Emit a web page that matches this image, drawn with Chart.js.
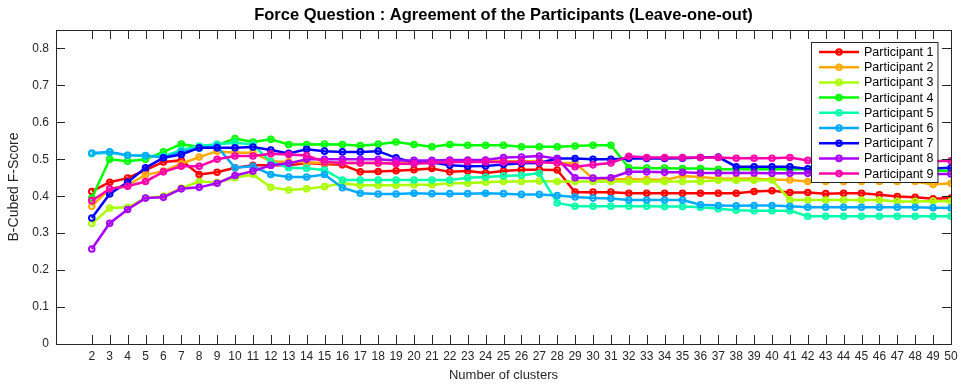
<!DOCTYPE html>
<html>
<head>
<meta charset="utf-8">
<title>Force Question</title>
<script src="https://cdn.jsdelivr.net/npm/chart.js@4.4.1/dist/chart.umd.min.js"></script>
<style>
  html, body { margin: 0; padding: 0; background: #fff; }
  #wrap { width: 963px; height: 389px; }
</style>
</head>
<body>
<div id="wrap"><canvas id="chart" width="963" height="389"></canvas></div>
<script>
// number of clusters (x axis)
const CLUSTERS = [2, 3, 4, 5, 6, 7, 8, 9, 10, 11, 12, 13, 14, 15, 16, 17, 18, 19, 20, 21, 22, 23, 24, 25, 26,
  27, 28, 29, 30, 31, 32, 33, 34, 35, 36, 37, 38, 39, 40, 41, 42, 43, 44, 45, 46, 47, 48, 49, 50];
const Y_TICKS = [0, 0.1, 0.2, 0.3, 0.4, 0.5, 0.6, 0.7, 0.8];

// B-Cubed F-score per participant, one value per cluster count
const P1 = [0.413, 0.438, 0.449, 0.471, 0.493, 0.497, 0.459, 0.465, 0.477, 0.484,
  0.484, 0.484, 0.490, 0.487, 0.485, 0.466, 0.467, 0.469, 0.472, 0.475,
  0.466, 0.468, 0.463, 0.468, 0.472, 0.472, 0.471, 0.411, 0.411, 0.411,
  0.408, 0.408, 0.408, 0.408, 0.408, 0.408, 0.408, 0.413, 0.415, 0.410,
  0.410, 0.407, 0.408, 0.408, 0.404, 0.399, 0.397, 0.393, 0.395];
const P2 = [0.373, 0.420, 0.430, 0.458, 0.468, 0.488, 0.506, 0.522, 0.518, 0.518,
  0.495, 0.493, 0.492, 0.490, 0.490, 0.490, 0.490, 0.490, 0.490, 0.492,
  0.495, 0.495, 0.495, 0.495, 0.495, 0.495, 0.490, 0.490, 0.448, 0.446,
  0.446, 0.445, 0.444, 0.455, 0.452, 0.448, 0.447, 0.447, 0.445, 0.444,
  0.440, 0.440, 0.440, 0.440, 0.440, 0.440, 0.440, 0.432, 0.435];
const P3 = [0.326, 0.368, 0.370, 0.395, 0.400, 0.422, 0.440, 0.437, 0.450, 0.459,
  0.424, 0.417, 0.420, 0.426, 0.435, 0.430, 0.430, 0.430, 0.431, 0.431,
  0.435, 0.435, 0.438, 0.440, 0.440, 0.441, 0.440, 0.440, 0.440, 0.440,
  0.440, 0.440, 0.440, 0.440, 0.440, 0.443, 0.443, 0.443, 0.444, 0.390,
  0.390, 0.390, 0.390, 0.390, 0.390, 0.386, 0.386, 0.387, 0.386];
const P4 = [0.395, 0.500, 0.495, 0.500, 0.520, 0.541, 0.533, 0.538, 0.556, 0.547,
  0.554, 0.540, 0.540, 0.541, 0.540, 0.537, 0.541, 0.547, 0.540, 0.534,
  0.540, 0.538, 0.538, 0.538, 0.534, 0.534, 0.534, 0.536, 0.538, 0.538,
  0.477, 0.476, 0.476, 0.475, 0.475, 0.473, 0.473, 0.473, 0.473, 0.473,
  0.473, 0.470, 0.470, 0.470, 0.470, 0.470, 0.470, 0.470, 0.468];
const P5 = [0.515, 0.518, 0.511, 0.509, 0.508, 0.525, 0.536, 0.541, 0.545, 0.540,
  0.493, 0.477, 0.476, 0.471, 0.444, 0.444, 0.444, 0.444, 0.444, 0.444,
  0.444, 0.450, 0.452, 0.455, 0.457, 0.462, 0.382, 0.373, 0.373, 0.373,
  0.373, 0.373, 0.372, 0.372, 0.370, 0.366, 0.362, 0.361, 0.361, 0.361,
  0.346, 0.346, 0.346, 0.346, 0.346, 0.346, 0.346, 0.346, 0.346];
const P6 = [0.517, 0.520, 0.511, 0.510, 0.505, 0.520, 0.530, 0.535, 0.477, 0.481,
  0.459, 0.452, 0.452, 0.459, 0.423, 0.408, 0.406, 0.406, 0.408, 0.407,
  0.407, 0.407, 0.408, 0.407, 0.405, 0.405, 0.402, 0.398, 0.395, 0.394,
  0.390, 0.390, 0.390, 0.390, 0.377, 0.375, 0.374, 0.375, 0.375, 0.373,
  0.370, 0.370, 0.370, 0.370, 0.370, 0.370, 0.370, 0.369, 0.368];
const P7 = [0.341, 0.406, 0.438, 0.477, 0.504, 0.513, 0.531, 0.531, 0.531, 0.533,
  0.525, 0.516, 0.527, 0.522, 0.520, 0.520, 0.522, 0.504, 0.491, 0.491,
  0.484, 0.481, 0.482, 0.486, 0.489, 0.490, 0.502, 0.502, 0.500, 0.500,
  0.502, 0.502, 0.502, 0.503, 0.505, 0.506, 0.480, 0.480, 0.480, 0.480,
  0.474, 0.475, 0.475, 0.475, 0.475, 0.475, 0.475, 0.475, 0.477];
const P8 = [0.257, 0.327, 0.364, 0.395, 0.397, 0.420, 0.424, 0.435, 0.456, 0.468,
  0.484, 0.489, 0.500, 0.500, 0.500, 0.500, 0.500, 0.497, 0.497, 0.497,
  0.498, 0.498, 0.498, 0.505, 0.506, 0.509, 0.502, 0.450, 0.449, 0.450,
  0.466, 0.466, 0.465, 0.465, 0.463, 0.463, 0.463, 0.463, 0.462, 0.462,
  0.462, 0.461, 0.461, 0.461, 0.461, 0.461, 0.461, 0.460, 0.460];
const P9 = [0.388, 0.420, 0.427, 0.440, 0.466, 0.481, 0.481, 0.500, 0.509, 0.509,
  0.515, 0.513, 0.510, 0.493, 0.490, 0.490, 0.490, 0.488, 0.488, 0.490,
  0.493, 0.493, 0.493, 0.493, 0.493, 0.492, 0.490, 0.480, 0.485, 0.490,
  0.508, 0.505, 0.505, 0.505, 0.505, 0.505, 0.503, 0.503, 0.503, 0.505,
  0.497, 0.495, 0.495, 0.495, 0.495, 0.495, 0.495, 0.495, 0.496];

const SERIES = [P1, P2, P3, P4, P5, P6, P7, P8, P9];
const NAMES = ['Participant 1', 'Participant 2', 'Participant 3', 'Participant 4', 'Participant 5',
  'Participant 6', 'Participant 7', 'Participant 8', 'Participant 9'];
// hsv(9) colour order
const COLORS = ['#ff0000', '#ffaa00', '#aaff00', '#00ff00', '#00ffaa', '#00aaff', '#0000ff', '#aa00ff', '#ff00aa'];

const FONT = "'Liberation Sans', Arial, Helvetica, sans-serif";
const AXIS_COLOR = '#262626';
const TICK_LEN = 9;

Chart.defaults.font.family = FONT;
Chart.defaults.color = AXIS_COLOR;

// box around the plot with inward ticks on all four sides
const boxAxes = {
  id: 'boxAxes',
  afterDatasetsDraw(chart) {
    const { ctx, chartArea: a, scales: { x, y } } = chart;
    ctx.save();
    ctx.strokeStyle = AXIS_COLOR;
    ctx.lineWidth = 1;
    ctx.beginPath();
    x.ticks.forEach(t => {
      const px = Math.round(x.getPixelForValue(t.value)) + 0.5;
      ctx.moveTo(px, a.bottom);
      ctx.lineTo(px, a.bottom - TICK_LEN);
      ctx.moveTo(px, a.top);
      ctx.lineTo(px, a.top + TICK_LEN);
    });
    y.ticks.forEach(t => {
      const py = Math.round(y.getPixelForValue(t.value)) + 0.5;
      ctx.moveTo(a.left, py);
      ctx.lineTo(a.left + TICK_LEN, py);
      ctx.moveTo(a.right, py);
      ctx.lineTo(a.right - TICK_LEN, py);
    });
    ctx.stroke();
    ctx.strokeRect(Math.round(a.left) + 0.5, Math.round(a.top) + 0.5,
      Math.round(a.right - a.left), Math.round(a.bottom - a.top));
    ctx.restore();
  }
};

// legend box in the upper right corner of the plot
const insideLegend = {
  id: 'insideLegend',
  afterDraw(chart) {
    const { ctx, chartArea: a } = chart;
    const rowH = 15.2;
    const lineW = 40;
    ctx.save();
    ctx.font = '12.5px ' + FONT;
    const textW = Math.max(...NAMES.map(n => ctx.measureText(n).width));
    const w = 8 + lineW + 5 + textW + 4;
    const h = Math.round(rowH * NAMES.length + 3);
    const left = Math.round(a.right - 14 - w);
    const top = Math.round(a.top + 12);
    ctx.fillStyle = '#fff';
    ctx.fillRect(left, top, w, h);
    ctx.strokeStyle = AXIS_COLOR;
    ctx.lineWidth = 1;
    ctx.strokeRect(left + 0.5, top + 0.5, w, h);
    NAMES.forEach((name, i) => {
      const cy = top + 10 + i * rowH;
      const x0 = left + 8;
      ctx.strokeStyle = COLORS[i];
      ctx.lineWidth = 2.5;
      ctx.beginPath();
      ctx.moveTo(x0, cy);
      ctx.lineTo(x0 + lineW, cy);
      ctx.stroke();
      ctx.lineWidth = 2;
      ctx.beginPath();
      ctx.arc(x0 + lineW / 2, cy, 2.8, 0, Math.PI * 2);
      ctx.stroke();
      ctx.fillStyle = '#000';
      ctx.textBaseline = 'middle';
      ctx.textAlign = 'left';
      ctx.fillText(name, x0 + lineW + 5, cy + 0.5);
    });
    ctx.restore();
  }
};

const datasets = SERIES.map((vals, i) => ({
  label: NAMES[i],
  data: CLUSTERS.map((c, j) => ({ x: c, y: vals[j] })),
  borderColor: COLORS[i],
  pointBorderColor: COLORS[i],
  pointBackgroundColor: 'rgba(255,255,255,0)',
  borderWidth: 2.5,
  pointRadius: 2.8,
  pointBorderWidth: 2,
  tension: 0,
  order: SERIES.length - i
}));

new Chart(document.getElementById('chart'), {
  type: 'line',
  data: { datasets },
  plugins: [boxAxes, insideLegend],
  options: {
    responsive: false,
    animation: false,
    events: [],
    layout: { padding: { left: 0, right: 12, top: 0, bottom: 0 } },
    plugins: {
      legend: { display: false },
      tooltip: { enabled: false },
      title: {
        display: true,
        text: 'Force Question : Agreement of the Participants (Leave-one-out)',
        fullSize: false,
        color: '#000',
        font: { size: 16.5, weight: 'bold' },
        padding: { top: 5.5, bottom: 4.7 }
      }
    },
    scales: {
      x: {
        type: 'linear',
        min: 0,
        max: 50,
        grid: { display: false, drawTicks: false },
        border: { display: false },
        afterBuildTicks: s => { s.ticks = CLUSTERS.map(v => ({ value: v })); },
        afterFit: s => { s.height = 45; },
        ticks: { autoSkip: false, maxRotation: 0, padding: 5, font: { size: 12 } },
        title: {
          display: true,
          text: 'Number of clusters',
          font: { size: 13 },
          padding: { top: 0, bottom: 6 }
        }
      },
      y: {
        min: 0,
        max: 0.85,
        grid: { display: false, drawTicks: false },
        border: { display: false },
        afterBuildTicks: s => { s.ticks = Y_TICKS.map(v => ({ value: v })); },
        afterFit: s => { s.width = 56; },
        ticks: { padding: 7, font: { size: 12 }, callback: v => String(v) },
        title: {
          display: true,
          text: 'B-Cubed F-Score',
          font: { size: 14 },
          padding: { top: 6, bottom: 0 }
        }
      }
    }
  }
});
</script>
</body>
</html>
